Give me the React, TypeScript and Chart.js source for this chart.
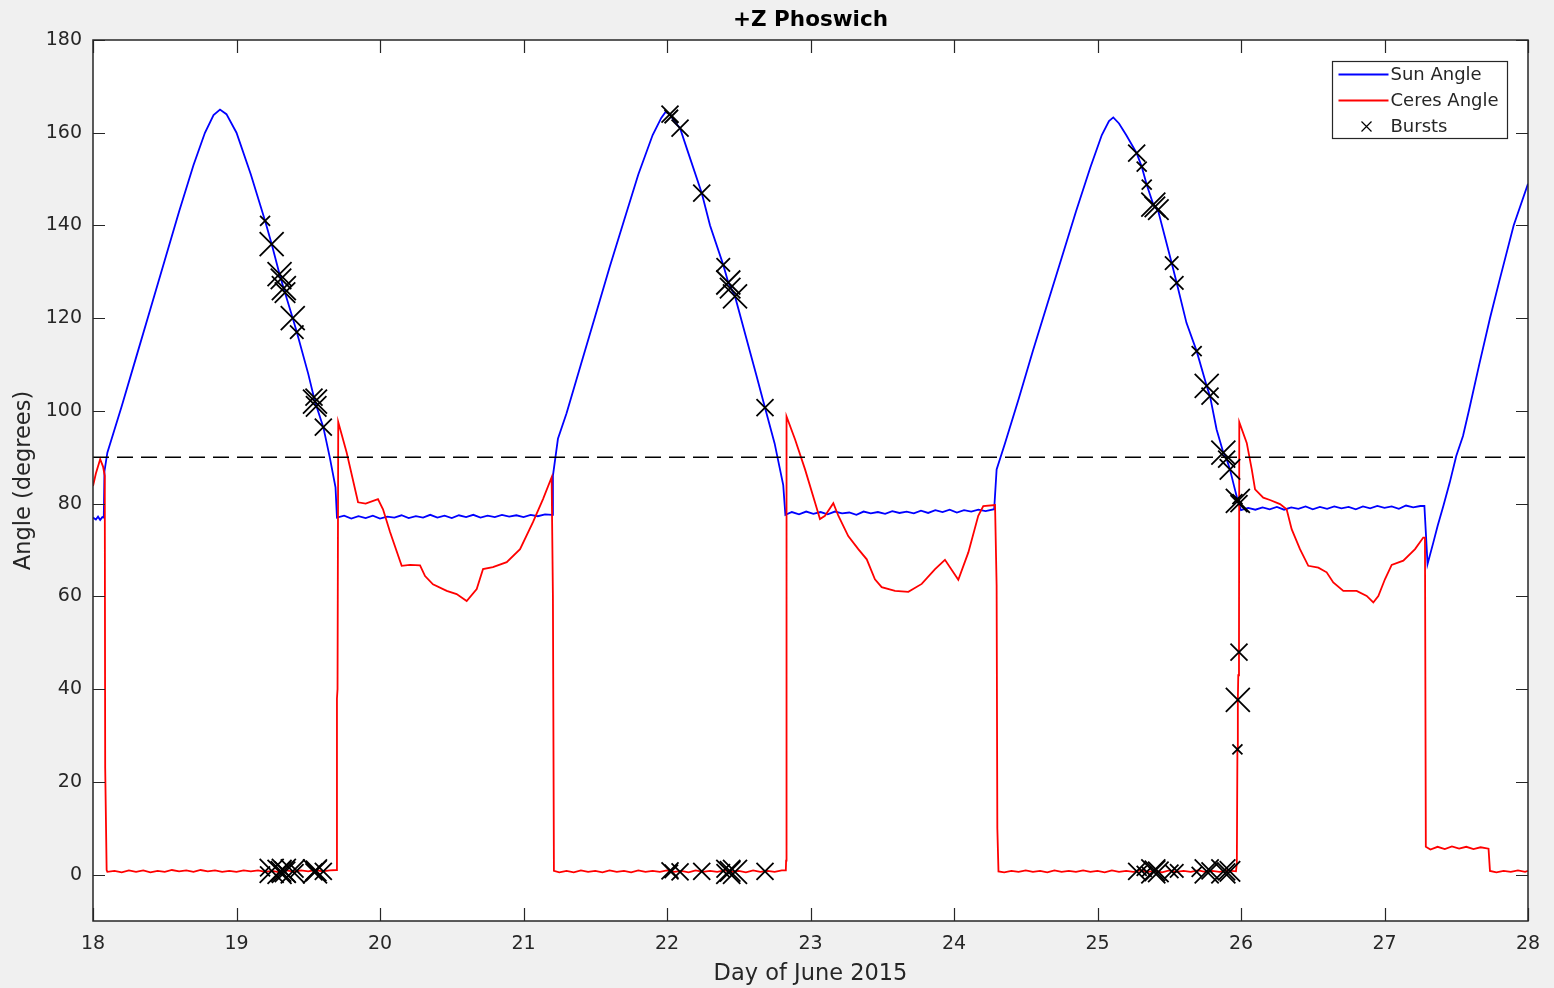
import React, { useEffect, useRef } from 'react';
import { Chart, registerables } from 'chart.js';

Chart.register(...registerables);

// ---- text ----
const chartTitle = '+Z Phoswich';
const xAxisTitle = 'Day of June 2015';
const yAxisTitle = 'Angle (degrees)';

// ---- axes ----
const dayTicks = [18, 19, 20, 21, 22, 23, 24, 25, 26, 27, 28];
const angleTicks = [0, 20, 40, 60, 80, 100, 120, 140, 160, 180];
const dayRange = [18, 28];
const angleRange = [-10, 180];
const limbAngle = 90;

// ---- Sun angle [day, degrees] ----
const sunAngle: [number, number][] = [
  [18.0, 77.0], [18.02, 76.6], [18.035, 77.2], [18.05, 76.5], [18.065, 77.1], [18.075, 77.0],
  [18.08, 87.0], [18.1, 91.0], [18.2, 101.0], [18.3, 111.5], [18.4, 122.0], [18.5, 132.5],
  [18.6, 143.0], [18.7, 153.0], [18.78, 160.0], [18.84, 163.8], [18.885, 165.0], [18.93, 164.0],
  [19.0, 160.0], [19.1, 151.0], [19.199, 141.0], [19.245, 136.0], [19.3, 129.5], [19.338, 125.5],
  [19.392, 120.0], [19.42, 117.0], [19.5, 108.0], [19.547, 102.0], [19.605, 96.5], [19.65, 90.0],
  [19.69, 83.5],
  [19.7, 77.0], [19.75, 77.4], [19.8, 76.8], [19.85, 77.3], [19.9, 76.9], [19.95, 77.4],
  [20.0, 76.8], [20.05, 77.2], [20.1, 77.0], [20.15, 77.5], [20.2, 76.9], [20.25, 77.3],
  [20.3, 77.0], [20.35, 77.6], [20.4, 77.0], [20.45, 77.4], [20.5, 76.9], [20.55, 77.5],
  [20.6, 77.1], [20.65, 77.6], [20.7, 77.0], [20.75, 77.4], [20.8, 77.1], [20.85, 77.6],
  [20.9, 77.2], [20.95, 77.5], [21.0, 77.1], [21.05, 77.6], [21.1, 77.3], [21.15, 77.7],
  [21.2, 77.6],
  [21.205, 86.0], [21.24, 94.0], [21.3, 99.5], [21.4, 110.0], [21.5, 120.5], [21.6, 131.0],
  [21.7, 141.0], [21.8, 151.0], [21.9, 159.5], [21.96, 163.2], [21.99, 164.5], [22.021, 164.0],
  [22.05, 162.5], [22.091, 161.0], [22.15, 155.5], [22.242, 147.0], [22.3, 140.0], [22.392, 131.5],
  [22.427, 127.7], [22.474, 124.7], [22.55, 116.0], [22.62, 108.0], [22.683, 100.7], [22.75, 93.0],
  [22.81, 84.0],
  [22.825, 77.6], [22.87, 78.2], [22.92, 77.7], [22.97, 78.3], [23.02, 77.8], [23.07, 78.2],
  [23.12, 77.7], [23.17, 78.3], [23.22, 77.9], [23.27, 78.1], [23.32, 77.6], [23.37, 78.3],
  [23.42, 77.9], [23.47, 78.2], [23.52, 77.8], [23.57, 78.4], [23.62, 78.0], [23.67, 78.3],
  [23.72, 77.9], [23.77, 78.5], [23.82, 78.0], [23.87, 78.6], [23.92, 78.2], [23.97, 78.7],
  [24.02, 78.1], [24.07, 78.6], [24.12, 78.3], [24.17, 78.7], [24.22, 78.4], [24.28, 78.8],
  [24.297, 87.4], [24.355, 93.0], [24.45, 102.5], [24.55, 113.0], [24.65, 123.0], [24.75, 133.0],
  [24.85, 143.0], [24.95, 152.5], [25.03, 159.5], [25.08, 162.5], [25.11, 163.3], [25.15, 162.0],
  [25.2, 159.5], [25.273, 155.6], [25.308, 152.7], [25.343, 148.8], [25.389, 144.5], [25.424, 143.0],
  [25.47, 137.5], [25.517, 131.9], [25.552, 127.6], [25.62, 119.0], [25.691, 112.9], [25.761, 105.4],
  [25.784, 103.2], [25.83, 96.0], [25.877, 91.0], [25.9, 89.6], [25.923, 87.4], [25.95, 84.0],
  [25.978, 80.6], [25.99, 79.5],
  [26.0, 78.6], [26.05, 79.1], [26.1, 78.7], [26.15, 79.2], [26.2, 78.8], [26.25, 79.3],
  [26.3, 78.7], [26.35, 79.2], [26.4, 78.9], [26.45, 79.4], [26.5, 78.8], [26.55, 79.3],
  [26.6, 78.9], [26.65, 79.4], [26.7, 79.0], [26.75, 79.3], [26.8, 78.8], [26.85, 79.4],
  [26.9, 79.0], [26.95, 79.5], [27.0, 79.1], [27.05, 79.4], [27.1, 78.9], [27.15, 79.6],
  [27.2, 79.2], [27.25, 79.5], [27.278, 79.5],
  [27.3, 67.0], [27.34, 71.6], [27.37, 75.2], [27.41, 79.5], [27.455, 84.6], [27.5, 90.3],
  [27.547, 94.6], [27.59, 100.3], [27.66, 110.0], [27.735, 120.0], [27.8, 128.0], [27.9, 140.0],
  [28.0, 149.0],
];

// ---- Ceres angle [day, degrees] ----
const ceresAngle: [number, number][] = [
  [18.0, 83.8], [18.02, 86.5], [18.05, 89.6], [18.07, 88.0], [18.082, 86.0], [18.085, 23.0],
  [18.095, 1.0], [18.1, 0.6], [18.15, 0.8], [18.2, 0.5], [18.25, 0.9], [18.3, 0.6],
  [18.35, 0.9], [18.4, 0.5], [18.45, 0.8], [18.5, 0.6], [18.55, 1.0], [18.6, 0.7],
  [18.65, 0.9], [18.7, 0.6], [18.75, 1.0], [18.8, 0.7], [18.85, 0.9], [18.9, 0.6],
  [18.95, 0.8], [19.0, 0.6], [19.05, 0.9], [19.1, 0.7], [19.15, 0.9], [19.2, 0.6],
  [19.25, 0.8], [19.3, 0.5], [19.35, 0.9], [19.4, 0.6], [19.45, 0.9], [19.5, 0.7],
  [19.55, 1.0], [19.6, 0.7], [19.65, 0.9], [19.695, 1.0],
  [19.7, 38.0], [19.704, 40.0], [19.709, 97.6], [19.768, 91.0], [19.847, 80.3], [19.9, 80.0],
  [19.986, 81.0], [20.021, 78.8], [20.07, 73.9], [20.151, 66.6], [20.209, 66.8], [20.279, 66.7],
  [20.314, 64.4], [20.369, 62.6], [20.465, 61.2], [20.534, 60.5], [20.604, 59.0], [20.674, 61.6],
  [20.718, 65.9], [20.787, 66.3], [20.883, 67.4], [20.976, 70.2], [21.066, 76.0], [21.136, 81.0],
  [21.196, 85.7], [21.205, 60.0],
  [21.212, 0.8], [21.25, 0.5], [21.3, 0.8], [21.35, 0.5], [21.4, 0.9], [21.45, 0.6],
  [21.5, 0.8], [21.55, 0.5], [21.6, 0.9], [21.65, 0.6], [21.7, 0.8], [21.75, 0.5],
  [21.8, 0.9], [21.85, 0.6], [21.9, 0.8], [21.95, 0.6], [22.0, 0.9], [22.05, 0.6],
  [22.1, 0.8], [22.15, 0.5], [22.2, 0.9], [22.25, 0.6], [22.3, 0.8], [22.35, 0.6],
  [22.4, 0.9], [22.45, 0.6], [22.5, 0.8], [22.55, 0.5], [22.6, 0.9], [22.65, 0.6],
  [22.7, 0.8], [22.75, 0.6], [22.8, 0.9], [22.828, 0.9],
  [22.83, 3.0], [22.832, 40.0], [22.834, 98.8], [22.892, 93.9], [22.962, 87.4], [23.031, 80.3],
  [23.066, 76.7], [23.101, 77.4], [23.159, 80.1], [23.194, 77.4], [23.263, 73.0], [23.333, 70.2],
  [23.392, 68.0], [23.449, 63.7], [23.496, 62.0], [23.589, 61.2], [23.682, 61.0], [23.775, 62.7],
  [23.868, 65.9], [23.937, 67.9], [24.03, 63.6], [24.1, 69.5], [24.169, 77.4], [24.204, 79.5],
  [24.286, 79.7], [24.297, 62.3], [24.302, 10.0],
  [24.31, 0.7], [24.35, 0.5], [24.4, 0.8], [24.45, 0.6], [24.5, 0.9], [24.55, 0.6],
  [24.6, 0.8], [24.65, 0.5], [24.7, 0.9], [24.75, 0.6], [24.8, 0.8], [24.85, 0.6],
  [24.9, 0.9], [24.95, 0.6], [25.0, 0.8], [25.05, 0.5], [25.1, 0.9], [25.15, 0.6],
  [25.2, 0.8], [25.25, 0.6], [25.3, 0.9], [25.35, 0.6], [25.4, 0.8], [25.45, 0.5],
  [25.5, 0.9], [25.55, 0.6], [25.6, 0.8], [25.65, 0.6], [25.7, 0.9], [25.75, 0.6],
  [25.8, 0.8], [25.85, 0.6], [25.9, 0.9], [25.965, 0.7],
  [25.971, 2.4], [25.975, 27.0], [25.978, 37.7], [25.981, 43.0], [25.986, 48.0], [25.988, 97.6],
  [26.04, 93.1], [26.075, 87.4], [26.098, 83.1], [26.155, 81.3], [26.202, 80.8], [26.272, 79.9],
  [26.318, 78.8], [26.353, 74.5], [26.411, 70.2], [26.469, 66.6], [26.539, 66.2], [26.597, 65.2],
  [26.643, 63.0], [26.713, 61.2], [26.806, 61.2], [26.876, 60.1], [26.922, 58.7], [26.957, 60.1],
  [27.003, 63.7], [27.05, 66.8], [27.131, 67.7], [27.213, 70.2], [27.27, 72.7], [27.282, 72.7],
  [27.288, 6.0], [27.32, 5.4], [27.37, 6.0], [27.42, 5.5], [27.47, 6.1], [27.52, 5.6],
  [27.57, 6.0], [27.62, 5.5], [27.67, 5.9], [27.725, 5.6],
  [27.735, 0.8], [27.78, 0.5], [27.83, 0.8], [27.88, 0.6], [27.93, 0.9], [27.98, 0.6],
  [28.0, 0.8],
];

// ---- Bursts: time, angles at that time, relative intensity (1..5) ----
const burstDay = [
  19.199, 19.245, 19.3, 19.31, 19.33, 19.338, 19.392, 19.42, 19.54, 19.547, 19.555, 19.605,
  22.021, 22.03, 22.091, 22.242, 22.392, 22.427, 22.44, 22.474, 22.683,
  25.273, 25.308, 25.343, 25.389, 25.4, 25.424, 25.517, 25.552, 25.691, 25.761, 25.784,
  25.877, 25.9, 25.923, 25.975, 25.978, 25.986,
];
const burstSunAngle = [
  141.0, 136.0, 129.5, 128.5, 126.5, 125.5, 120.0, 117.0, 103.0, 102.0, 101.0, 96.5,
  164.0, 163.5, 161.0, 147.0, 131.5, 127.7, 126.5, 124.7, 100.7,
  155.6, 152.7, 148.8, 144.5, 144.0, 143.4, 131.9, 127.6, 112.9, 105.4, 103.2,
  91.0, 89.6, 87.4, 81.0, 80.6, 80.0,
];
const burstCeresAngle = [
  0.7, 0.8, 0.6, 0.7, 0.8, 0.6, 0.7, 0.8, 0.6, 0.7, 0.8, 0.7,
  0.8, 0.7, 0.6, 0.7, 0.8, 0.6, 0.7, 0.6, 0.7,
  0.7, 0.8, 0.6, 0.7, 0.8, 0.6, 0.7, 0.8, 0.6, 0.7, 0.8,
  0.7, 0.6, 0.7, 27.0, 37.7, 48.0,
];
const burstIntensity = [
  1, 5, 5, 4, 5, 4, 5, 2, 3, 5, 4, 3,
  3, 2, 3, 3, 2, 5, 4, 5, 3,
  3, 1, 1, 5, 4, 4, 2, 2, 1, 5, 3,
  5, 3, 4, 1, 5, 3,
];

const FONT = '"DejaVu Sans", Verdana, sans-serif';
const AXIS_COLOR = '#262626';
const CANVAS_W = 1554;
const CANVAS_H = 988;

// half-width of an "x" marker from burst intensity, converted to Chart.js crossRot radius
const markerRadius = (k: number) => (3.25 + 1.75 * k) * Math.SQRT2;

const matlabAxes = {
  id: 'matlabAxes',
  beforeDraw(chart: any) {
    const { ctx, chartArea: a } = chart;
    ctx.save();
    ctx.fillStyle = '#f0f0f0';
    ctx.fillRect(0, 0, chart.width, chart.height);
    ctx.fillStyle = '#ffffff';
    ctx.fillRect(a.left, a.top, a.right - a.left, a.bottom - a.top);
    ctx.restore();
  },
  afterDraw(chart: any) {
    const { ctx, chartArea: a, scales } = chart;
    const xs = scales.x;
    const ys = scales.y;
    ctx.save();
    // box
    ctx.strokeStyle = AXIS_COLOR;
    ctx.lineWidth = 1.5;
    ctx.strokeRect(a.left, a.top, a.right - a.left, a.bottom - a.top);
    // inward ticks on all four sides
    ctx.lineWidth = 1.2;
    ctx.beginPath();
    dayTicks.forEach((d) => {
      const px = Math.round(xs.getPixelForValue(d)) + 0.5;
      ctx.moveTo(px, a.bottom);
      ctx.lineTo(px, a.bottom - 13);
      ctx.moveTo(px, a.top);
      ctx.lineTo(px, a.top + 13);
    });
    angleTicks.forEach((v) => {
      const py = Math.round(ys.getPixelForValue(v)) + 0.5;
      ctx.moveTo(a.left, py);
      ctx.lineTo(a.left + 12, py);
      ctx.moveTo(a.right, py);
      ctx.lineTo(a.right - 12, py);
    });
    ctx.stroke();

    // titles
    const cx = (a.left + a.right) / 2;
    ctx.textAlign = 'center';
    ctx.textBaseline = 'middle';
    ctx.fillStyle = '#000000';
    ctx.font = `bold 21.5px ${FONT}`;
    ctx.fillText(chartTitle, cx, 20);
    ctx.fillStyle = AXIS_COLOR;
    ctx.font = `22.5px ${FONT}`;
    ctx.fillText(xAxisTitle, cx, 974);
    ctx.save();
    ctx.translate(24, (a.top + a.bottom) / 2);
    ctx.rotate(-Math.PI / 2);
    ctx.fillText(yAxisTitle, 0, 0);
    ctx.restore();

    // legend
    const entries = chart.data.datasets.filter((ds: any) => ds.label);
    const bx = 1332.5;
    const by = 61.5;
    const bw = 175;
    const bh = 77;
    ctx.fillStyle = '#ffffff';
    ctx.fillRect(bx, by, bw, bh);
    ctx.strokeStyle = AXIS_COLOR;
    ctx.lineWidth = 1.2;
    ctx.strokeRect(bx, by, bw, bh);
    ctx.font = `18px ${FONT}`;
    ctx.textAlign = 'left';
    entries.forEach((ds: any, i: number) => {
      const ly = by + 13 + i * 26;
      if (ds.showLine) {
        ctx.strokeStyle = ds.borderColor;
        ctx.lineWidth = ds.borderWidth;
        ctx.beginPath();
        ctx.moveTo(bx + 6, ly);
        ctx.lineTo(bx + 56, ly);
        ctx.stroke();
      } else {
        ctx.strokeStyle = ds.pointBorderColor;
        ctx.lineWidth = 1.2;
        ctx.beginPath();
        const h = 5;
        const mx = bx + 34;
        ctx.moveTo(mx - h, ly - h);
        ctx.lineTo(mx + h, ly + h);
        ctx.moveTo(mx - h, ly + h);
        ctx.lineTo(mx + h, ly - h);
        ctx.stroke();
      }
      ctx.fillStyle = AXIS_COLOR;
      ctx.fillText(ds.label, bx + 58, ly + 1);
    });
    ctx.restore();
  },
};

export default function App() {
  const canvasRef = useRef<HTMLCanvasElement | null>(null);

  useEffect(() => {
    const canvas = canvasRef.current;
    if (!canvas) return;

    const burstPoints = burstDay
      .map((d, i) => ({ x: d, y: burstSunAngle[i] }))
      .concat(burstDay.map((d, i) => ({ x: d, y: burstCeresAngle[i] })));
    const burstRadii = burstIntensity.map(markerRadius).concat(burstIntensity.map(markerRadius));

    const chart = new Chart(canvas, {
      type: 'scatter',
      data: {
        datasets: [
          {
            label: 'Sun Angle',
            data: sunAngle.map(([x, y]) => ({ x, y })),
            showLine: true,
            borderColor: '#0000ff',
            borderWidth: 1.8,
            pointRadius: 0,
            order: 3,
          },
          {
            label: 'Ceres Angle',
            data: ceresAngle.map(([x, y]) => ({ x, y })),
            showLine: true,
            borderColor: '#ff0000',
            borderWidth: 1.8,
            pointRadius: 0,
            order: 2,
          },
          {
            label: 'Bursts',
            data: burstPoints,
            showLine: false,
            pointStyle: 'crossRot',
            pointRadius: burstRadii,
            pointBorderColor: '#000000',
            pointBackgroundColor: '#000000',
            pointBorderWidth: 1.8,
            order: 0,
          },
          {
            label: '',
            data: [
              { x: dayRange[0], y: limbAngle },
              { x: dayRange[1], y: limbAngle },
            ],
            showLine: true,
            borderColor: '#000000',
            borderWidth: 1.5,
            borderDash: [16, 8],
            pointRadius: 0,
            order: 1,
          },
        ] as any,
      },
      options: {
        animation: false,
        responsive: false,
        devicePixelRatio: 1,
        events: [],
        layout: { padding: { top: 40, right: CANVAS_W - 1528, left: 0, bottom: 0 } },
        plugins: {
          legend: { display: false },
          title: { display: false },
          tooltip: { enabled: false },
        },
        scales: {
          x: {
            type: 'linear',
            min: dayRange[0],
            max: dayRange[1],
            grid: { display: false, drawTicks: false },
            border: { display: false },
            ticks: {
              autoSkip: false,
              padding: 12,
              color: AXIS_COLOR,
              font: { family: FONT, size: 19 },
            },
            afterBuildTicks: (s: any) => {
              s.ticks = dayTicks.map((v) => ({ value: v }));
            },
            afterFit: (s: any) => {
              s.height = CANVAS_H - 921;
            },
          },
          y: {
            type: 'linear',
            min: angleRange[0],
            max: angleRange[1],
            grid: { display: false, drawTicks: false },
            border: { display: false },
            ticks: {
              autoSkip: false,
              padding: 11,
              color: AXIS_COLOR,
              font: { family: FONT, size: 19 },
            },
            afterBuildTicks: (s: any) => {
              s.ticks = angleTicks.map((v) => ({ value: v }));
            },
            afterFit: (s: any) => {
              s.width = 93;
            },
          },
        },
      } as any,
      plugins: [matlabAxes],
    });

    return () => chart.destroy();
  }, []);

  return (
    <div
      style={{
        position: 'fixed',
        left: 0,
        top: 0,
        width: CANVAS_W,
        height: CANVAS_H,
        background: '#f0f0f0',
      }}
    >
      <canvas ref={canvasRef} width={CANVAS_W} height={CANVAS_H} style={{ display: 'block' }} />
    </div>
  );
}
